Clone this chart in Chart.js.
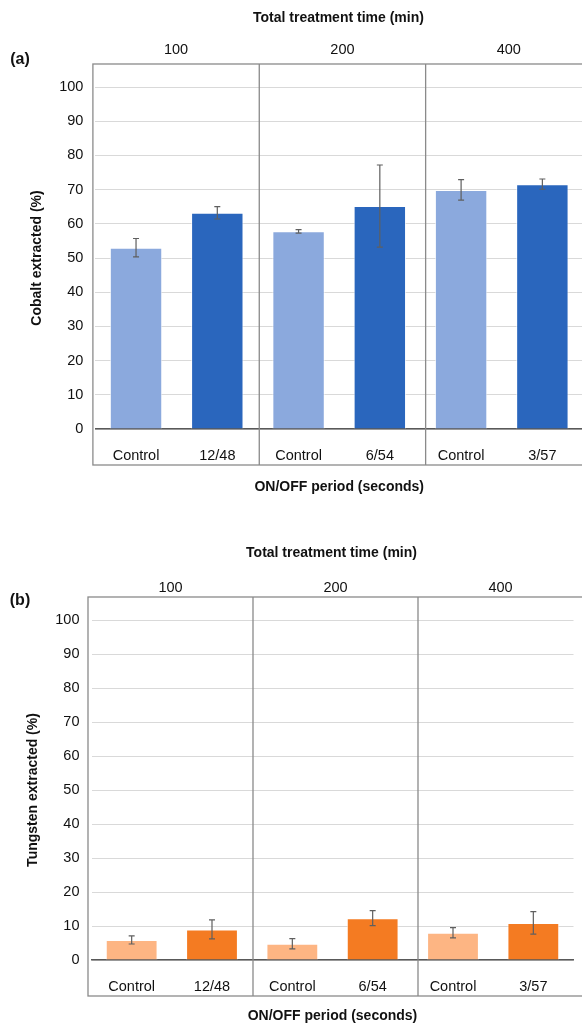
<!DOCTYPE html>
<html>
<head>
<meta charset="utf-8">
<script src="https://cdn.jsdelivr.net/npm/chart.js@4.4.1/dist/chart.umd.min.js"></script>
<style>
  html, body { margin: 0; padding: 0; background: #fff; overflow: hidden; }
  #wrapA { position: absolute; left: 0; top: 0; }
  #wrapB { position: absolute; left: 0; top: 533px; }
</style>
</head>
<body>
<div id="wrapA"><canvas id="chartA" width="600" height="500"></canvas></div>
<div id="wrapB"><canvas id="chartB" width="600" height="492"></canvas></div>
<script>
// data
var periods = ['Control', '12/48', 'Control', '6/54', 'Control', '3/57'];
var totalTimes = ['100', '200', '400'];
var yTicks = [0, 10, 20, 30, 40, 50, 60, 70, 80, 90, 100];
var cobalt = [53.0, 63.2, 57.8, 65.2, 69.9, 71.6];
var cobaltErr = [2.7, 1.8, 0.5, 12.0, 3.0, 1.5];
var tungsten = [5.9, 9.0, 4.8, 12.3, 8.0, 10.9];
var tungstenErr = [1.2, 2.8, 1.5, 2.2, 1.5, 3.3];

var FONT = "'Liberation Sans', Arial, sans-serif";

// error bars + the framed layout (box, group separators, headers)
var framePlugin = {
	id: 'frame',
	afterDatasetsDraw: function(chart) {
		var ctx = chart.ctx;
		var y = chart.scales.y;
		var meta = chart.getDatasetMeta(0);
		var vals = chart.data.datasets[0].data;
		var errs = chart.options.plugins.frame.errors;
		ctx.save();
		ctx.strokeStyle = '#5f5f5f';
		ctx.lineWidth = 1.2;
		for (var i = 0; i < vals.length; i++) {
			var x = meta.data[i].x;
			var top = y.getPixelForValue(vals[i] + errs[i]);
			var bot = y.getPixelForValue(vals[i] - errs[i]);
			ctx.beginPath();
			ctx.moveTo(x, top); ctx.lineTo(x, bot);
			ctx.moveTo(x - 3, top); ctx.lineTo(x + 3, top);
			ctx.moveTo(x - 3, bot); ctx.lineTo(x + 3, bot);
			ctx.stroke();
		}
		ctx.restore();
	},
	afterDraw: function(chart) {
		var o = chart.options.plugins.frame;
		var ctx = chart.ctx;
		var area = chart.chartArea;
		var left = area.left - o.padLeft;
		var right = area.right + o.padRight;
		var top = area.top - 23;
		var bottom = area.bottom + 36;
		// group separators sit at thirds of the frame
		var third = (right - left) / 3;
		var sep1 = left + third;
		var sep2 = left + 2 * third;
		ctx.save();
		ctx.strokeStyle = '#8a8a8a';
		ctx.lineWidth = 1.3;
		ctx.strokeRect(left, top, right - left, bottom - top);
		ctx.beginPath();
		ctx.moveTo(sep1, top); ctx.lineTo(sep1, bottom);
		ctx.moveTo(sep2, top); ctx.lineTo(sep2, bottom);
		ctx.stroke();

		ctx.fillStyle = '#111';
		ctx.textAlign = 'center';
		ctx.textBaseline = 'middle';
		ctx.font = 'bold 14px ' + FONT;
		ctx.fillText('Total treatment time (min)', (left + right) / 2 - 4, o.titleY);
		ctx.font = '14.5px ' + FONT;
		var edges = [left, sep1, sep2, right];
		for (var g = 0; g < totalTimes.length; g++) {
			ctx.fillText(totalTimes[g], (edges[g] + edges[g + 1]) / 2, o.groupY);
		}
		ctx.font = 'bold 16px ' + FONT;
		ctx.fillText(o.tag, 20, o.tagY);
		ctx.restore();
	}
};

function makePanel(id, values, errors, colors, yTitle, geo) {
	var ctx = document.getElementById(id);
	return new Chart(ctx, {
		type: 'bar',
		data: {
			labels: periods,
			datasets: [{
				data: values,
				backgroundColor: colors,
				borderColor: 'rgba(255,255,255,0.7)',
				borderWidth: 1,
				barPercentage: 0.645,
				categoryPercentage: 1
			}]
		},
		options: {
			responsive: false,
			animation: false,
			layout: { padding: { top: 87, right: geo.padRight, left: 0, bottom: 0 } },
			plugins: {
				legend: { display: false },
				tooltip: { enabled: false },
				frame: {
					errors: errors,
					tag: geo.tag,
					tagY: geo.tagY,
					padLeft: geo.boxLeft,
					padRight: geo.boxRight,
					titleY: geo.titleY,
					groupY: geo.groupY
				}
			},
			scales: {
				x: {
					grid: { display: false },
					border: { display: true, color: '#595959', width: 1.6 },
					ticks: { color: '#111', font: { family: FONT, size: 14.5 }, padding: 10, maxRotation: 0 },
					title: {
						display: true,
						text: 'ON/OFF period (seconds)',
						color: '#111',
						font: { family: FONT, size: 14, weight: 'bold' },
						padding: { top: 0, bottom: geo.xTitlePad }
					},
					afterFit: function(scale) { scale.height = geo.xHeight; }
				},
				y: {
					min: 0,
					max: 100,
					afterBuildTicks: function(scale) {
						scale.ticks = yTicks.map(function(v) { return { value: v }; });
					},
					grid: { color: '#d9d9d9', lineWidth: 1, drawTicks: false },
					border: { display: false },
					ticks: { color: '#111', font: { family: FONT, size: 14.5 }, padding: 12 },
					title: {
						display: true,
						text: yTitle,
						color: '#111',
						font: { family: FONT, size: 14, weight: 'bold' },
						padding: { top: geo.yTitlePad, bottom: 0 }
					},
					afterFit: function(scale) { scale.width = geo.yWidth; }
				}
			}
		},
		plugins: [framePlugin]
	});
}

makePanel('chartA', cobalt, cobaltErr,
	['#8ba9dd', '#2a66bd', '#8ba9dd', '#2a66bd', '#8ba9dd', '#2a66bd'],
	'Cobalt extracted (%)',
	{ tag: '(a)', tagY: 60, padRight: 17, boxLeft: 2.5, boxRight: 9, yWidth: 95.4, yTitlePad: 29,
	  xHeight: 71, xTitlePad: 4, titleY: 18, groupY: 50 });

makePanel('chartB', tungsten, tungstenErr,
	['#fdb583', '#f47b22', '#fdb583', '#f47b22', '#fdb583', '#f47b22'],
	'Tungsten extracted (%)',
	{ tag: '(b)', tagY: 68, padRight: 26.5, boxLeft: 3.5, boxRight: 9.5, yWidth: 91.5, yTitlePad: 25,
	  xHeight: 65, xTitlePad: 0, titleY: 20, groupY: 55 });
</script>
</body>
</html>
